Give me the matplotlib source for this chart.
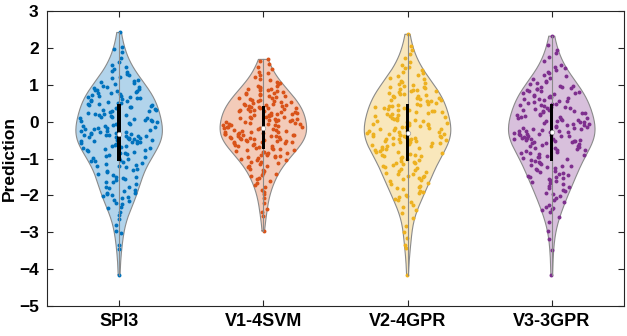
import numpy as np
import matplotlib
matplotlib.use('Agg')
import matplotlib.pyplot as plt
from matplotlib.patches import Rectangle

plt.rcParams['font.family'] = ['Liberation Sans', 'DejaVu Sans']
plt.rcParams['font.weight'] = 'bold'

names = ['SPI3', 'V1-4SVM', 'V2-4GPR', 'V3-3GPR']
colors = ['#0072BD', '#D95319', '#EDB120', '#7E2F8E']

spi3 = [
    -4.15, -3.45, -3.33, -3.02, -2.97, -2.81, -2.63, -2.52,
    -2.46, -2.33, -2.30, -2.22, -2.21, -2.14, -2.12, -2.06, -2.03, -2.01,
    -1.99, -1.96, -1.93, -1.93, -1.88, -1.86, -1.80, -1.77, -1.76, -1.69, -1.64, -1.63, -1.58, -1.55, -1.52, -1.51,
    -1.49, -1.44, -1.43, -1.37, -1.33, -1.30, -1.29, -1.24, -1.21, -1.20, -1.18, -1.14, -1.13, -1.09, -1.07, -1.06, -1.03, -1.01,
    -0.99, -0.98, -0.95, -0.92, -0.91, -0.88, -0.86, -0.85, -0.82, -0.80, -0.78, -0.77, -0.74, -0.72, -0.70, -0.68, -0.66, -0.65,
    -0.62, -0.60, -0.59, -0.57, -0.56, -0.55, -0.53, -0.52, -0.51, -0.50,
    -0.49, -0.48, -0.46, -0.45, -0.44, -0.43, -0.42, -0.41, -0.40, -0.39, -0.38, -0.37, -0.36, -0.35, -0.34, -0.33,
    -0.31, -0.30, -0.28, -0.27, -0.26, -0.24, -0.22, -0.21, -0.19, -0.17, -0.16, -0.14, -0.12, -0.11, -0.09, -0.07,
    -0.05, -0.04, -0.02,
    0.01, 0.02, 0.04, 0.06, 0.07, 0.09, 0.11, 0.12, 0.14, 0.16, 0.17, 0.19, 0.21, 0.22, 0.24, 0.26, 0.28, 0.29,
    0.31, 0.33, 0.34, 0.36, 0.38, 0.39, 0.41, 0.42, 0.44, 0.46, 0.47, 0.49,
    0.51, 0.52, 0.54, 0.56, 0.57, 0.59, 0.61, 0.63, 0.64, 0.66, 0.68, 0.69, 0.71, 0.73, 0.75, 0.77, 0.78, 0.80,
    0.82, 0.84, 0.86, 0.87, 0.89, 0.91, 0.93, 0.95, 0.98,
    1.01, 1.04, 1.07, 1.11, 1.14, 1.18, 1.22, 1.26, 1.30, 1.34, 1.38, 1.43, 1.48,
    1.54, 1.63, 1.74, 1.88, 1.97,
    2.03, 2.42,
]

v1_4svm = [
    -2.96, -2.56,
    -2.44, -2.38, -2.21, -2.07,
    -1.97, -1.91, -1.84, -1.78, -1.72, -1.66, -1.61, -1.56, -1.52,
    -1.48, -1.45, -1.41, -1.38, -1.35, -1.31, -1.28, -1.24, -1.21, -1.19, -1.16, -1.13, -1.10, -1.08, -1.05, -1.03, -1.01,
    -0.99, -0.97, -0.96, -0.94, -0.92, -0.91, -0.89, -0.88, -0.86, -0.84, -0.83, -0.81, -0.80, -0.78, -0.76, -0.75, -0.73,
    -0.72, -0.70, -0.68, -0.67, -0.65, -0.64, -0.62, -0.61, -0.59, -0.58, -0.56, -0.55, -0.54, -0.53, -0.52, -0.51, -0.50,
    -0.49, -0.48, -0.47, -0.46, -0.45, -0.44, -0.43, -0.42, -0.41, -0.40, -0.39, -0.38, -0.37, -0.36, -0.35, -0.34,
    -0.33, -0.32, -0.31, -0.30, -0.29, -0.28, -0.27, -0.26, -0.24, -0.23, -0.22, -0.21, -0.19, -0.18, -0.17, -0.15,
    -0.14, -0.13, -0.12, -0.10, -0.09, -0.08, -0.07, -0.06, -0.05, -0.04, -0.03, -0.01,
    0.00, 0.01, 0.02, 0.04, 0.05, 0.06, 0.07, 0.08, 0.10, 0.11, 0.12, 0.13, 0.14, 0.16, 0.17, 0.18, 0.19, 0.20,
    0.22, 0.23, 0.24, 0.25, 0.26, 0.28, 0.29, 0.30, 0.31, 0.32, 0.34, 0.35, 0.36, 0.37, 0.38, 0.40, 0.41, 0.42,
    0.43, 0.44, 0.45, 0.46, 0.47, 0.49,
    0.51, 0.53, 0.54, 0.56, 0.57, 0.59, 0.60, 0.62, 0.64, 0.65, 0.67, 0.69, 0.70, 0.72, 0.74, 0.76, 0.78, 0.79,
    0.81, 0.83, 0.85, 0.87, 0.89, 0.90, 0.92, 0.94, 0.96, 0.98,
    1.01, 1.05, 1.09, 1.13, 1.17, 1.21, 1.26, 1.31, 1.36, 1.42, 1.48,
    1.56, 1.66, 1.69,
]

v2_4gpr = [
    -4.15, -3.43, -3.34, -3.16, -2.98, -2.84, -2.61,
    -2.47, -2.39, -2.31, -2.26, -2.18, -2.13, -2.09, -2.05, -2.02,
    -1.98, -1.94, -1.90, -1.87, -1.83, -1.80, -1.76, -1.73, -1.69, -1.66, -1.62, -1.59, -1.56, -1.53, -1.51,
    -1.48, -1.46, -1.43, -1.41, -1.38, -1.36, -1.33, -1.31, -1.28, -1.26, -1.23, -1.21, -1.18, -1.16, -1.13, -1.11,
    -1.08, -1.06, -1.04, -1.02,
    -0.99, -0.97, -0.94, -0.93, -0.90, -0.89, -0.87, -0.84, -0.83, -0.81, -0.79, -0.76, -0.75, -0.73, -0.71, -0.69,
    -0.67, -0.66, -0.63, -0.61, -0.60, -0.58, -0.57, -0.55, -0.54, -0.52, -0.51, -0.50,
    -0.49, -0.48, -0.47, -0.46, -0.45, -0.43, -0.42, -0.41, -0.40, -0.39, -0.38, -0.36, -0.35, -0.34, -0.33, -0.32,
    -0.30, -0.29, -0.27, -0.26, -0.25, -0.23, -0.21, -0.20, -0.18, -0.16, -0.15, -0.13, -0.12, -0.10, -0.09, -0.07,
    -0.06, -0.04, -0.03, -0.01,
    0.02, 0.03, 0.05, 0.06, 0.08, 0.10, 0.11, 0.13, 0.15, 0.16, 0.18, 0.20, 0.21, 0.23, 0.25, 0.27, 0.28, 0.30,
    0.32, 0.33, 0.35, 0.37, 0.38, 0.40, 0.42, 0.43, 0.45, 0.46, 0.48, 0.49,
    0.51, 0.53, 0.55, 0.56, 0.58, 0.60, 0.62, 0.64, 0.65, 0.67, 0.69, 0.71, 0.73, 0.74, 0.76, 0.78, 0.80, 0.82,
    0.84, 0.85, 0.87, 0.89, 0.91, 0.93, 0.95, 0.97, 0.99,
    1.02, 1.05, 1.08, 1.11, 1.15, 1.19, 1.23, 1.27, 1.31, 1.35, 1.40, 1.45, 1.49,
    1.55, 1.63, 1.72, 1.84, 1.95,
    2.05, 2.37,
]

v3_3gpr = [
    -4.15, -3.48, -3.17, -2.95, -2.72, -2.58,
    -2.45, -2.40, -2.37, -2.33, -2.30, -2.27, -2.19, -2.12, -2.07, -2.02,
    -1.97, -1.93, -1.89, -1.85, -1.81, -1.77, -1.74, -1.70, -1.67, -1.63, -1.60, -1.57, -1.55, -1.53, -1.51,
    -1.49, -1.46, -1.44, -1.41, -1.39, -1.36, -1.34, -1.31, -1.29, -1.26, -1.24, -1.21, -1.19, -1.17, -1.14, -1.12,
    -1.09, -1.07, -1.04, -1.01,
    -0.98, -0.96, -0.95, -0.92, -0.90, -0.88, -0.86, -0.84, -0.82, -0.80, -0.78, -0.76, -0.74, -0.72, -0.70, -0.68,
    -0.67, -0.65, -0.63, -0.61, -0.59, -0.58, -0.56, -0.55, -0.53, -0.52, -0.51, -0.50,
    -0.49, -0.48, -0.47, -0.46, -0.44, -0.43, -0.41, -0.40, -0.39, -0.38, -0.37, -0.35, -0.34, -0.33, -0.32, -0.31,
    -0.29, -0.28, -0.26, -0.25, -0.24, -0.22, -0.20, -0.19, -0.17, -0.16, -0.14, -0.13, -0.11, -0.10, -0.08, -0.07,
    -0.05, -0.04, -0.02, -0.01,
    0.01, 0.03, 0.04, 0.06, 0.08, 0.09, 0.11, 0.13, 0.14, 0.16, 0.18, 0.19, 0.21, 0.23, 0.24, 0.26, 0.28, 0.29,
    0.31, 0.33, 0.34, 0.36, 0.38, 0.39, 0.41, 0.43, 0.44, 0.46, 0.47, 0.49,
    0.52, 0.53, 0.55, 0.57, 0.59, 0.61, 0.62, 0.64, 0.66, 0.68, 0.70, 0.71, 0.73, 0.75, 0.77, 0.79, 0.80, 0.82,
    0.84, 0.86, 0.88, 0.89, 0.91, 0.93, 0.95, 0.96, 0.98,
    1.01, 1.04, 1.08, 1.11, 1.15, 1.19, 1.23, 1.27, 1.31, 1.36, 1.41, 1.46, 1.49,
    1.55, 1.64, 1.75, 1.86, 1.95,
    2.07, 2.32,
]

groups = [spi3, v1_4svm, v2_4gpr, v3_3gpr]


def kde(data, grid):
    # gaussian kernel, silverman bandwidth like ksdensity
    n = len(data)
    sig = np.median(np.abs(data - np.median(data))) / 0.6745
    bw = sig * (4 / (3 * n)) ** 0.2
    z = (grid[:, None] - data[None, :]) / bw
    return np.exp(-0.5 * z ** 2).sum(axis=1) / (n * bw * np.sqrt(2 * np.pi))


def spread(n, seed):
    # deterministic hash in [0, 1) used for the horizontal jitter
    k = np.arange(n) + 1.0
    return np.abs(np.sin(k * 12.9898 + seed * 78.233) * 43758.5453) % 1.0


fig = plt.figure(figsize=(6.27, 3.36), dpi=100)
ax = fig.add_axes([0.075, 0.089, 0.920, 0.878])

half_width = 0.3

for i, (vals, c) in enumerate(zip(groups, colors)):
    pos = i + 1
    d = np.array(vals, dtype=float)
    grid = np.linspace(d.min(), d.max(), 200)
    dens = kde(d, grid)
    w = dens / dens.max() * half_width

    ax.fill_betweenx(grid, pos - w, pos + w, facecolor=c, alpha=0.3, lw=0)
    ax.plot(np.r_[pos - w, (pos + w)[::-1], pos - w[0]],
            np.r_[grid, grid[::-1], grid[0]], color='#8a8a8a', lw=0.8)

    # points spread across the violin width at their height
    u = spread(len(d), i + 1)
    strength = np.interp(d, grid, w)
    xs = pos + (2 * u - 1) * strength * 0.95
    ax.scatter(xs, d, s=8, color=c, linewidths=0, zorder=3)

    q1, med, q3 = np.percentile(d, [25, 50, 75])
    ax.plot([pos, pos], [d.min(), d.max()], color='#8a8a8a', lw=0.8, zorder=4)
    ax.add_patch(Rectangle((pos - 0.012, q1), 0.024, q3 - q1, facecolor='black',
                           edgecolor='none', zorder=5))
    ax.plot(pos, med, 'o', ms=3.2, mfc='white', mec='#9a9a9a', mew=0.5, zorder=6)

ax.set_xlim(0.5, 4.5)
ax.set_ylim(-5, 3)
ax.set_xticks([1, 2, 3, 4])
ax.set_xticklabels(names, fontsize=13, fontweight='bold')
ax.set_yticks(range(-5, 4))
ax.tick_params(axis='y', labelsize=12.5, pad=6)
ax.tick_params(axis='x', pad=5)
ax.tick_params(direction='in', length=4, width=0.8, color='#262626',
               top=True, right=True)
for s in ax.spines.values():
    s.set_color('#262626')
    s.set_linewidth(0.8)
for t in ax.get_yticklabels():
    t.set_fontweight('bold')

ax.set_ylabel('Prediction', fontsize=12.5, fontweight='bold')
ax.yaxis.set_label_coords(-0.052, 0.5)

fig.savefig('out.png', dpi=100)
